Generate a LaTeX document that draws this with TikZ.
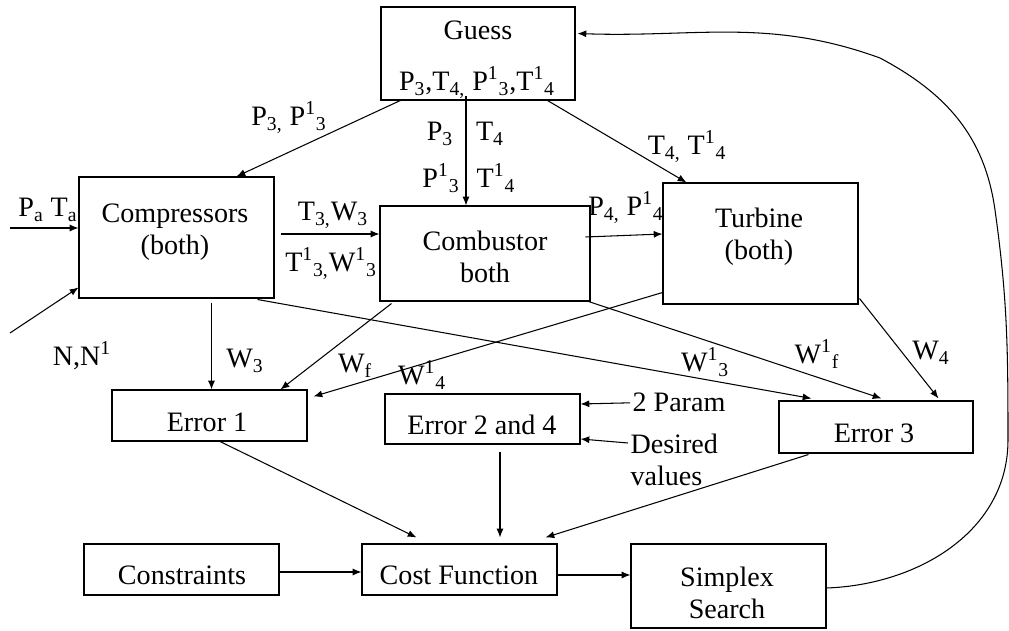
\documentclass[tikz,border=0pt]{standalone}
\usepackage{fontspec}
\setmainfont{Liberation Serif}
\usetikzlibrary{arrows.meta,calc}

\newcommand{\sbt}[1]{\textsubscript{#1}}
\newcommand{\upsbt}[2]{\textsuperscript{#1}\textsubscript{#2}}

\tikzset{
  box/.style={draw, rectangle, inner sep=0pt, minimum width=3.9cm},
  txt/.style={inner sep=0pt, anchor=base, align=center},
  lbl/.style={inner sep=0pt, anchor=base},
  flow/.style={-{Latex[length=5pt,width=4pt]}}
}

\begin{document}
\begin{tikzpicture}[x=0.02cm, y=-0.02cm, line width=0.6pt, font=\fontsize{16}{18.7}\selectfont]
  \useasboundingbox (0,0) rectangle (1009,631);
  % boxes
  \node[box, minimum width=3.88cm, minimum height=1.86cm] (guess) at (478,53.5) {};
  \node[box, minimum height=2.42cm] (comp) at (176.5,237.5) {};
  \node[box, minimum width=4.2cm, minimum height=1.9cm] (comb) at (485,253.5) {};
  \node[box, minimum height=2.42cm] (turb) at (760.5,243.5) {};
  \node[box, minimum height=1.02cm] (err1) at (209.5,415.5) {};
  \node[box, minimum height=1cm] (err2) at (482.5,419) {};
  \node[box, minimum width=3.88cm, minimum height=1.04cm] (err3) at (876,427) {};
  \node[box, minimum height=1.02cm] (cons) at (181.5,569.5) {};
  \node[box, minimum height=1.02cm] (cost) at (459.5,569.5) {};
  \node[box, minimum height=1.68cm] (simp) at (728.5,586) {};
  % box texts
  \node[txt] (guesstxt) at (478,40) {Guess};
  \node[txt] (guessvar) at (477,91) {P\sbt{3},T\sbt{4,} P\upsbt{1}{3},T\upsbt{1}{4}};
  \node[txt] (comptxt) at (175,255) {Compressors\\(both)};
  \node[txt] (combtxt) at (485,283) {Combustor\\both};
  \node[txt] (turbtxt) at (759,260) {Turbine\\(both)};
  \node[txt] (err1txt) at (207,432) {Error 1};
  \node[txt] (err2txt) at (482,435) {Error 2 and 4};
  \node[txt] (err3txt) at (874,443) {Error 3};
  \node[txt] (constxt) at (182,585) {Constraints};
  \node[txt] (costtxt) at (459,585) {Cost Function};
  \node[txt] (simptxt) at (727,619) {Simplex\\Search};
  % inputs
  \node[lbl] (param) at (679,412) {2 Param};
  \node[inner sep=0pt, anchor=north west, align=left] (desired) at (630,433) {Desired\\values};
  \coordinate (pin) at (10,228);
  \coordinate (nin) at (10,333);
  % labels
  \node[lbl] (pcomp) at (289,126) {P\sbt{3,} P\upsbt{1}{3}};
  \node[lbl] (p3) at (440,141) {P\sbt{3}};
  \node[lbl] (t4) at (490,141) {T\sbt{4}};
  \node[lbl] (p13) at (441,188) {P\upsbt{1}{3}};
  \node[lbl] (t14) at (496,188) {T\upsbt{1}{4}};
  \node[lbl] (tturb) at (687,155) {T\sbt{4,} T\upsbt{1}{4}};
  \node[lbl] (pa) at (48,217) {P\sbt{a} T\sbt{a}};
  \node[lbl] (nn) at (82,366) {N,N\textsuperscript{1}};
  \node[lbl] (t3w3) at (333,221) {T\sbt{3,}W\sbt{3}};
  \node[lbl] (t13w13) at (331,272) {T\upsbt{1}{3,}W\upsbt{1}{3}};
  \node[lbl] (p4) at (626,216) {P\sbt{4,} P\upsbt{1}{4}};
  \node[lbl] (w3) at (245,368) {W\sbt{3}};
  \node[lbl] (wf) at (355,373) {W\sbt{f}};
  \node[lbl] (w14) at (422,385) {W\upsbt{1}{4}};
  \node[lbl] (w13) at (705,372) {W\upsbt{1}{3}};
  \node[lbl] (w1f) at (817,364) {W\upsbt{1}{f}};
  \node[lbl] (w4) at (931,360) {W\sbt{4}};
  % guess out
  \coordinate (gc) at ($(guess.south)+(-12,-5)$);
  \draw[flow] ($(guess.south west)+(22,-1)$) -- ($(comp.north west)+(158,0)$);
  \draw[flow] (gc) -- (gc |- comb.north);
  \draw[flow] ($(guess.south east)+(-28,0)$) -- ($(turb.north west)+(24,0)$);
  % into compressors
  \draw[flow] (pin) -- (pin -| comp.west);
  \draw[flow] (nin) -- ($(comp.south west)+(0,-11)$);
  \coordinate (cc) at ($(comp.east)+(6,-3.5)$);
  \draw[flow] (cc) -- (cc -| comb.west);
  \draw[flow] ($(comb.east)+(-5,-16.5)$) -- ($(turb.west)+(0,-9.5)$);
  % to the errors
  \coordinate (cw) at ($(comp.south west)+(133,4)$);
  \draw[flow] (cw) -- (cw |- err1.north);
  \draw[flow] ($(comb.south west)+(12,2)$) -- ($(err1.north east)+(-27,0)$);
  \draw[flow] ($(turb.south west)+(0,-12)$) -- ($(err1.north east)+(6,7)$);
  \draw[flow] ($(comp.south east)+(-17,1)$) -- ($(err3.north west)+(33,-2)$);
  \draw[flow] ($(comb.south east)+(-2,0)$) -- ($(err3.north west)+(103,-2)$);
  \draw[flow] ($(turb.south east)+(1,-6)$) -- ($(err3.north east)+(-35,-2)$);
  \draw[flow] ($(param.west)+(-2,0)$) -- ($(err2.east)+(0,-15)$);
  \draw[flow] ($(desired.north west)+(-2,10)$) -- ($(err2.east)+(0,20)$);
  % to cost
  \coordinate (ec) at ($(err2.south)+(17.5,7)$);
  \draw[flow] ($(err1.south)+(8.5,-1)$) -- ($(cost.north west)+(55,-6)$);
  \draw[flow] (ec) -- ($(ec |- cost.north)+(0,-6)$);
  \draw[flow] ($(err3.south west)+(30,1)$) -- ($(cost.north east)+(-12,-6)$);
  \coordinate (cn) at ($(cons.east)+(0,2.5)$);
  \draw[flow] (cn) -- (cn -| cost.west);
  \coordinate (cs) at ($(cost.east)+(0,5.5)$);
  \draw[flow] (cs) -- (cs -| simp.west);
  % back to guess
  \coordinate (back) at ($(guess.east)+(2,-20)$);
  \draw[flow] ($(simp.east)+(0,2)$) to[out=2,in=-90] (1008,440) to[out=90,in=-82] (995,210)
    to[out=98,in=-28] (880,58) to[out=160,in=-2] (back);
\end{tikzpicture}
\end{document}
